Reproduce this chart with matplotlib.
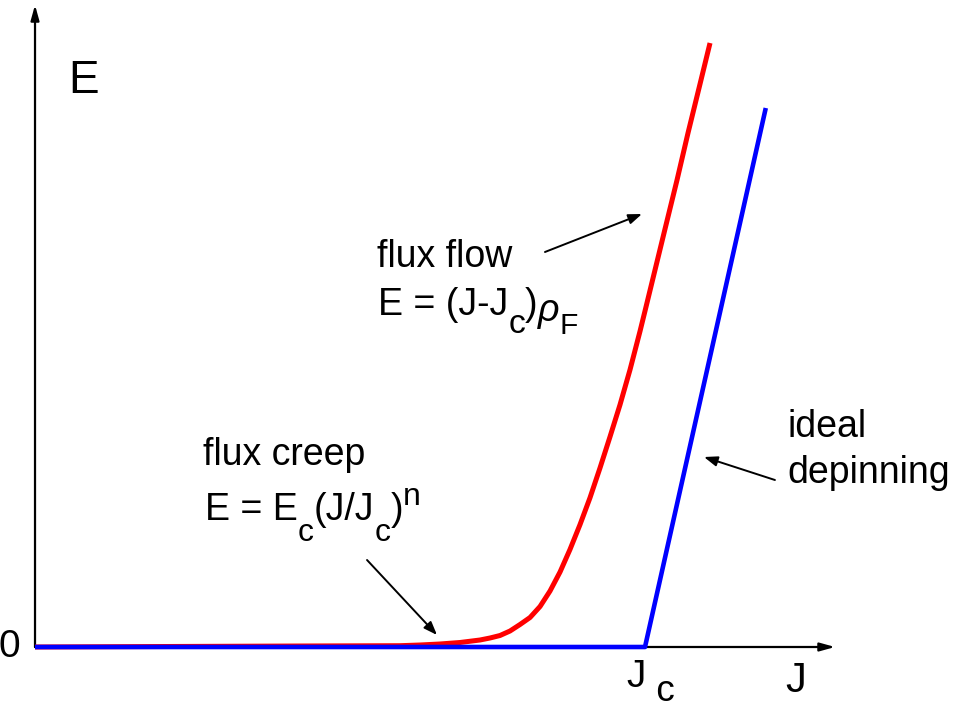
import matplotlib
matplotlib.use('Agg')
import matplotlib.pyplot as plt
from matplotlib.transforms import IdentityTransform

plt.rcParams['font.family'] = 'Liberation Sans'

# flux creep / flux flow E-J characteristic (J in units of Jc, E arbitrary)
J_real = [0.0, 0.4344, 0.5984, 0.6311, 0.6639, 0.6967, 0.7295, 0.7459, 0.7623,
          0.7787, 0.7951, 0.8115, 0.8279, 0.8443, 0.8607, 0.8770, 0.8934,
          0.9098, 0.9262, 0.9426, 0.9590, 0.9754, 0.9918, 1.0000, 1.0164,
          1.0328, 1.0525, 1.0705, 1.0902, 1.1066]
E_real = [0.0, 0.01, 0.013, 0.02, 0.03, 0.045, 0.07, 0.09, 0.115,
          0.16, 0.225, 0.295, 0.405, 0.56, 0.75, 0.975, 1.223,
          1.492, 1.79, 2.102, 2.422, 2.772, 3.157, 3.36, 3.77,
          4.18, 4.67, 5.14, 5.63, 6.04]

# ideal depinning: zero below Jc, linear above
J_ideal = [0.0, 1.0, 1.198]
E_ideal = [0.0, 0.0, 5.39]

fig = plt.figure(figsize=(9.55, 7.11), dpi=100)
ax = fig.add_axes([0, 0, 1, 1])
ax.set_xlim(-0.0574, 1.5082)
ax.set_ylim(-0.64, 6.47)
ax.axis('off')
renderer = fig.canvas.get_renderer()


def rich_text(x, y, pieces, size=27):
    # pieces: (text, size factor, baseline shift in em, italic)
    px, py = ax.transData.transform((x, y))
    em = size * fig.dpi / 72
    for s, f, dy, it in pieces:
        t = ax.text(px, py + dy * em, s, fontsize=size * f, ha='left', va='baseline',
                    style='italic' if it else 'normal', transform=IdentityTransform())
        px = t.get_window_extent(renderer).x1


# axes with arrow heads
axis_arrow = dict(arrowstyle='-|>,head_length=0.9,head_width=0.25', color='black',
                  lw=1.6, shrinkA=0, shrinkB=0)
ax.annotate('', xy=(1.3115, 0), xytext=(0, 0), arrowprops=axis_arrow, zorder=1)
ax.annotate('', xy=(0, 6.42), xytext=(0, 0), arrowprops=axis_arrow, zorder=1)

ax.plot(J_real, E_real, color='#ff0000', lw=3.6, solid_capstyle='butt', zorder=2)
ax.plot(J_ideal, E_ideal, color='#0000ff', lw=3.3, solid_capstyle='butt', zorder=3)

ax.text(0.054, 5.54, 'E', fontsize=33, ha='left', va='baseline')
ax.text(-0.0246, 0, '0', fontsize=28, ha='right', va='center')
ax.text(1.2295, -0.45, 'J', fontsize=30, ha='left', va='baseline')
rich_text(0.970, -0.40, [('J', 1, 0, False), (' c', 0.95, -0.36, False)], size=28)

ax.text(0.5607, 3.80, 'flux flow', fontsize=27, ha='left', va='baseline')
rich_text(0.5623, 3.32, [('E = (J-J', 1, 0, False), ('c', 0.9, -0.48, False),
                         (')', 1, 0, False), ('\u03c1', 1, -0.15, True),
                         ('F', 0.8, -0.5, False)])
ax.text(0.2754, 1.82, 'flux creep', fontsize=27, ha='left', va='baseline')
rich_text(0.2787, 1.27, [('E = E', 1, 0, False), ('c', 0.85, -0.55, False),
                         ('(J/J', 1, 0, False), ('c', 0.85, -0.55, False),
                         (')', 1, 0, False), ('n', 0.85, 0.4, False)])
ax.text(1.2328, 2.10, 'ideal', fontsize=27, ha='left', va='baseline')
ax.text(1.2328, 1.64, 'depinning', fontsize=27, ha='left', va='baseline')

# pointer arrows
ptr = dict(arrowstyle='-|>,head_length=0.8,head_width=0.3', color='black', lw=1.4,
           shrinkA=0, shrinkB=0)
ax.annotate('', xy=(0.659, 0.12), xytext=(0.5443, 0.87), arrowprops=ptr)
ax.annotate('', xy=(0.995, 4.33), xytext=(0.836, 3.95), arrowprops=ptr)
ax.annotate('', xy=(1.0967, 1.90), xytext=(1.213, 1.67), arrowprops=ptr)

fig.savefig('out.png', dpi=100, facecolor='white')
